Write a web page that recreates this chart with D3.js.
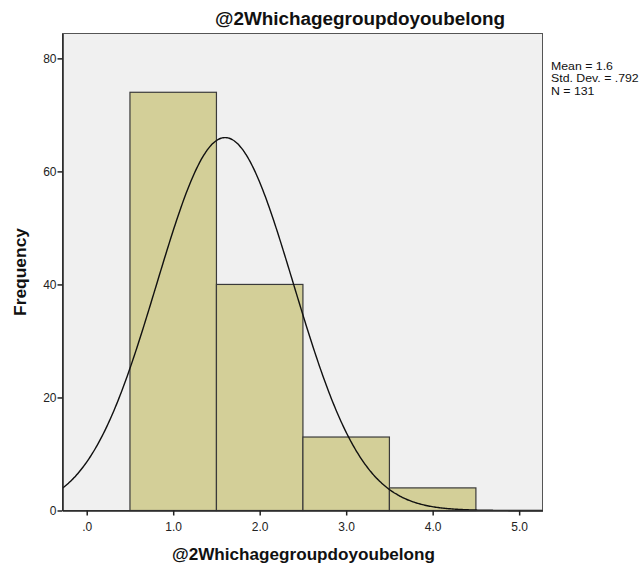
<!DOCTYPE html>
<html>
<head>
<meta charset="utf-8">
<script src="https://cdn.jsdelivr.net/npm/d3@7/dist/d3.min.js"></script>
<style>
  html, body { margin: 0; padding: 0; background: #ffffff; }
  svg { display: block; font-family: "Liberation Sans", Arial, sans-serif; }
</style>
</head>
<body>
<svg id="chart" width="644" height="567"></svg>
<script>
// Histogram bins (lower edge, upper edge) and their counts
const binStarts = [0.5, 1.5, 2.5, 3.5];
const binEnds = [1.5, 2.5, 3.5, 4.5];
const counts = [74, 40, 13, 4];

// Tick values and labels
const xTicks = [0, 1, 2, 3, 4, 5];
const xTickLabels = [".0", "1.0", "2.0", "3.0", "4.0", "5.0"];
const yTicks = [0, 20, 40, 60, 80];

// Summary statistics shown beside the plot
const statMean = 1.6;
const statSD = 0.792;
const statN = 131;
const statLines = ["Mean = 1.6", "Std. Dev. = .792", "N = 131"];

const titleText = "@2Whichagegroupdoyoubelong";
const xLabelText = "@2Whichagegroupdoyoubelong";
const yLabelText = "Frequency";

const svg = d3.select("#chart");
const plot = { left: 62.5, right: 542.5, top: 33.5, bottom: 510.5 };

const x = d3.scaleLinear().domain([-0.28, 5.27]).range([plot.left, plot.right]);
const y = d3.scaleLinear().domain([0, 84.4]).range([plot.bottom, plot.top]);

// Plot background
svg.append("rect")
  .attr("x", plot.left).attr("y", plot.top)
  .attr("width", plot.right - plot.left).attr("height", plot.bottom - plot.top)
  .attr("fill", "#f0f0f0");

// Bars
const bins = counts.map((c, i) => ({ x0: binStarts[i], x1: binEnds[i], n: c }));
svg.append("g").selectAll("rect").data(bins).join("rect")
  .attr("x", d => x(d.x0))
  .attr("y", d => y(d.n))
  .attr("width", d => x(d.x1) - x(d.x0))
  .attr("height", d => y(0) - y(d.n))
  .attr("fill", "#d3cf98")
  .attr("stroke", "#3a3a3a")
  .attr("stroke-width", 1.2);

// Normal curve scaled to counts (bin width 1)
const binWidth = binEnds[0] - binStarts[0];
const normal = v => statN * binWidth * Math.exp(-0.5 * ((v - statMean) / statSD) ** 2) / (statSD * Math.sqrt(2 * Math.PI));
const curvePts = d3.range(0, 401).map(i => {
  const v = x.domain()[0] + (x.domain()[1] - x.domain()[0]) * i / 400;
  return [v, normal(v)];
});
svg.append("path")
  .datum(curvePts)
  .attr("fill", "none")
  .attr("stroke", "#111")
  .attr("stroke-width", 1.4)
  .attr("d", d3.line().x(d => x(d[0])).y(d => y(d[1])).curve(d3.curveBasis));

// Plot frame
svg.append("rect")
  .attr("x", plot.left).attr("y", plot.top)
  .attr("width", plot.right - plot.left).attr("height", plot.bottom - plot.top)
  .attr("fill", "none")
  .attr("stroke", "#555")
  .attr("stroke-width", 1);

// Axes
const xAxis = d3.axisBottom(x).tickValues(xTicks)
  .tickFormat((d, i) => xTickLabels[i]).tickSize(5).tickSizeOuter(0);
const gx = svg.append("g").attr("transform", `translate(0,${plot.bottom})`).call(xAxis);
gx.select(".domain").attr("stroke", "#222").attr("stroke-width", 1.5);
gx.selectAll(".tick line").attr("stroke", "#222").attr("stroke-width", 1.5);
gx.selectAll(".tick text").attr("fill", "#222").attr("font-size", 12)
  .attr("font-family", "'Liberation Sans', Arial, sans-serif").attr("dy", "1.05em");

const yAxis = d3.axisLeft(y).tickValues(yTicks).tickSize(5).tickSizeOuter(0);
const gy = svg.append("g").attr("transform", `translate(${plot.left},0)`).call(yAxis);
gy.select(".domain").attr("stroke", "#222").attr("stroke-width", 1.5);
gy.selectAll(".tick line").attr("stroke", "#222").attr("stroke-width", 1.5);
gy.selectAll(".tick text").attr("fill", "#222").attr("font-size", 12)
  .attr("font-family", "'Liberation Sans', Arial, sans-serif").attr("x", -6);

// Title
svg.append("text")
  .attr("x", 360).attr("y", 25)
  .attr("text-anchor", "middle")
  .attr("font-size", 17.5).attr("font-weight", "bold").attr("fill", "#111")
  .attr("textLength", 290).attr("lengthAdjust", "spacingAndGlyphs")
  .text(titleText);

// Axis titles
svg.append("text")
  .attr("x", 303.5).attr("y", 560)
  .attr("text-anchor", "middle")
  .attr("font-size", 16.5).attr("font-weight", "bold").attr("fill", "#111")
  .attr("textLength", 263).attr("lengthAdjust", "spacingAndGlyphs")
  .text(xLabelText);

svg.append("text")
  .attr("transform", `translate(26,${(plot.top + plot.bottom) / 2}) rotate(-90)`)
  .attr("text-anchor", "middle")
  .attr("font-size", 16.5).attr("font-weight", "bold").attr("fill", "#111")
  .attr("textLength", 88).attr("lengthAdjust", "spacingAndGlyphs")
  .text(yLabelText);

// Statistics block, slightly widened horizontally
svg.append("g")
  .attr("transform", "translate(551,0) scale(1.14,1)")
  .selectAll("text").data(statLines).join("text")
  .attr("x", 0)
  .attr("y", (d, i) => 70 + i * 12.5)
  .attr("font-size", 10.8).attr("fill", "#111")
  .text(d => d);
</script>
</body>
</html>
